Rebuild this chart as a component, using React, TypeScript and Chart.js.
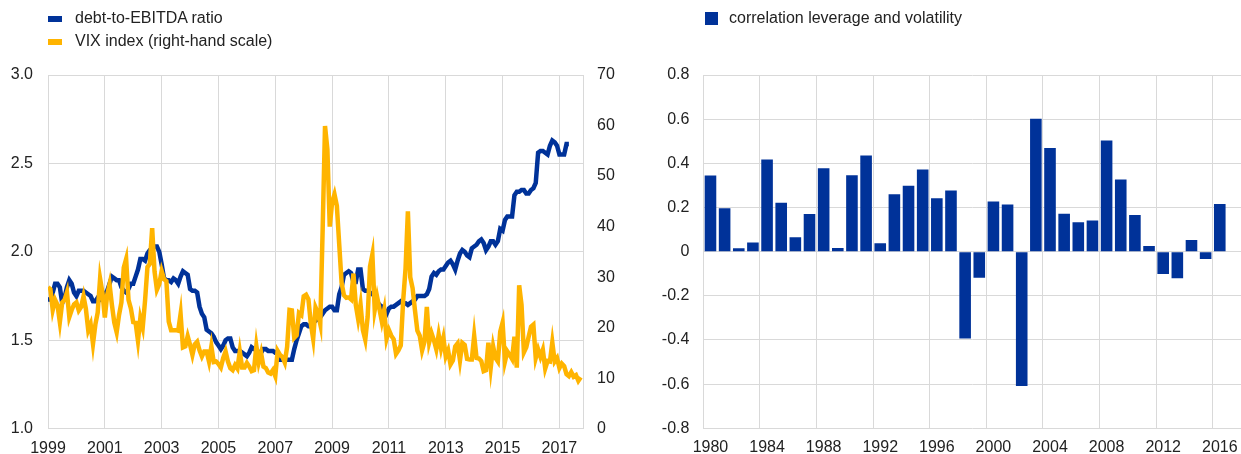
import React, { useEffect, useRef } from 'react';
import { Chart, registerables } from 'chart.js';

Chart.register(...registerables);

const FONT_FAMILY = "'Liberation Sans', Arial, Helvetica, sans-serif";
const BLUE = '#003299';
const YELLOW = '#FFB400';
const GRID = '#d9d9d9';
const TEXT = '#222222';

// ---------- Left chart: monthly data starting January 1999 ----------
const seriesStartYear = 1999;

const debtToEbitda = [
  // 1999
  1.73, 1.73, 1.77, 1.82, 1.82, 1.80, 1.71, 1.74, 1.80, 1.84, 1.82, 1.77,
  // 2000
  1.75, 1.78, 1.78, 1.78, 1.77, 1.76, 1.75, 1.72, 1.72, 1.74, 1.73, 1.74,
  // 2001
  1.76, 1.78, 1.82, 1.86, 1.85, 1.84, 1.84, 1.80, 1.78, 1.77, 1.79, 1.82,
  // 2002
  1.82, 1.86, 1.90, 1.96, 1.96, 1.95, 1.99, 2.01, 2.02, 2.03, 2.03, 2.00,
  // 2003
  1.93, 1.85, 1.84, 1.84, 1.83, 1.85, 1.84, 1.82, 1.86, 1.89, 1.88, 1.87,
  // 2004
  1.79, 1.78, 1.78, 1.77, 1.69, 1.65, 1.63, 1.56, 1.55, 1.54, 1.52, 1.49,
  // 2005
  1.47, 1.45, 1.47, 1.50, 1.51, 1.51, 1.46, 1.44, 1.44, 1.44, 1.43, 1.42,
  // 2006
  1.41, 1.43, 1.46, 1.45, 1.45, 1.43, 1.43, 1.45, 1.45, 1.44, 1.44, 1.44,
  // 2007
  1.43, 1.43, 1.39, 1.39, 1.39, 1.39, 1.39, 1.39, 1.45, 1.50, 1.54, 1.58,
  // 2008
  1.59, 1.59, 1.58, 1.58, 1.60, 1.61, 1.62, 1.63, 1.65, 1.67, 1.68, 1.69,
  // 2009
  1.69, 1.67, 1.67, 1.76, 1.80, 1.87, 1.88, 1.89, 1.88, 1.83, 1.83, 1.90,
  // 2010
  1.90, 1.79, 1.78, 1.78, 1.77, 1.76, 1.75, 1.72, 1.70, 1.69, 1.67, 1.65,
  // 2011
  1.68, 1.69, 1.69, 1.70, 1.71, 1.72, 1.71, 1.71, 1.70, 1.71, 1.72, 1.73,
  // 2012
  1.75, 1.75, 1.75, 1.75, 1.76, 1.79, 1.86, 1.88, 1.87, 1.89, 1.90, 1.90,
  // 2013
  1.92, 1.94, 1.95, 1.93, 1.90, 1.95, 1.99, 2.01, 2.00, 1.98, 1.97, 2.02,
  // 2014
  2.03, 2.04, 2.06, 2.07, 2.05, 2.01, 2.03, 2.06, 2.06, 2.04, 2.06, 2.13,
  // 2015
  2.12, 2.18, 2.20, 2.20, 2.20, 2.32, 2.34, 2.34, 2.35, 2.35, 2.33, 2.33,
  // 2016
  2.35, 2.36, 2.39, 2.56, 2.57, 2.57, 2.56, 2.55, 2.60, 2.63, 2.62, 2.60,
  // 2017
  2.55, 2.55, 2.55, 2.61, 2.61,
];

const vixIndex = [
  // 1999
  28.0, 27.6, 23.5, 25.5, 24.5, 21.1, 25.0, 25.5, 27.0, 22.1, 23.5, 24.6,
  // 2000
  25.0, 23.4, 24.1, 26.2, 23.7, 19.5, 20.7, 16.8, 20.6, 23.0, 29.7, 26.9,
  // 2001
  22.0, 26.5, 28.6, 24.5, 21.0, 19.1, 22.5, 25.0, 31.9, 33.6, 25.5, 23.8,
  // 2002
  21.1, 21.0, 17.4, 21.9, 20.0, 25.4, 32.0, 32.6, 39.7, 31.1, 27.5, 28.6,
  // 2003
  31.2, 29.6, 29.2, 21.2, 19.5, 19.5, 19.5, 19.4, 22.7, 16.1, 16.3, 18.3,
  // 2004
  16.6, 14.6, 16.7, 17.2, 15.5, 14.3, 15.3, 15.3, 13.3, 16.3, 13.2, 13.3,
  // 2005
  12.8, 12.1, 14.0, 15.3, 13.3, 12.0, 11.6, 12.6, 11.9, 15.3, 12.1, 12.1,
  // 2006
  13.0, 12.3, 11.4, 11.6, 16.4, 13.1, 15.0, 12.3, 12.0, 11.1, 10.9, 11.6,
  // 2007
  10.4, 15.4, 14.6, 14.2, 13.1, 16.2, 23.5, 23.4, 18.0, 18.5, 22.9, 22.5,
  // 2008
  26.2, 26.5, 25.6, 20.8, 17.8, 24.0, 22.9, 20.7, 39.4, 59.9, 55.3, 40.0,
  // 2009
  44.8, 46.4, 44.1, 36.5, 28.9, 26.4, 25.9, 26.0, 25.6, 30.7, 24.5, 21.7,
  // 2010
  24.6, 19.5, 17.6, 22.1, 32.1, 34.5, 23.5, 26.1, 23.7, 21.2, 23.5, 17.8,
  // 2011
  19.5, 18.4, 17.7, 14.8, 15.5, 16.5, 25.3, 31.6, 43.0, 30.0, 27.8, 23.4,
  // 2012
  19.4, 18.4, 15.5, 17.2, 24.1, 17.1, 18.9, 17.5, 15.7, 18.6, 15.9, 18.0,
  // 2013
  14.3, 15.5, 12.7, 13.5, 16.3, 16.9, 13.5, 17.0, 16.6, 13.8, 13.7, 13.7,
  // 2014
  18.4, 14.0, 13.9, 13.4, 11.4, 11.6, 17.0, 12.1, 16.3, 14.0, 13.3, 19.2,
  // 2015
  21.0, 13.3, 15.3, 14.6, 13.8, 18.2, 12.1, 28.4, 24.5, 15.1, 16.1, 18.2,
  // 2016
  20.2, 20.6, 14.0, 15.7, 14.2, 15.6, 11.9, 13.4, 13.3, 17.1, 13.3, 14.0,
  // 2017
  12.0, 12.9, 12.4, 10.8, 10.4, 11.2, 10.3, 10.6, 9.5, 10.2,
];

const leftXTicks = [1999, 2001, 2003, 2005, 2007, 2009, 2011, 2013, 2015, 2017];
const leftXMin = 1999;
const leftXMax = 2017.83;
const leftYMin = 1.0;
const leftYMax = 3.0;
const leftYStep = 0.5;
const rightYMin = 0;
const rightYMax = 70;
const rightYStep = 10;

const leftLegend = ['debt-to-EBITDA ratio', 'VIX index (right-hand scale)'];

// ---------- Right chart: annual correlation ----------
const corrYears = [
  '1980', '1981', '1982', '1983', '1984', '1985', '1986', '1987', '1988', '1989',
  '1990', '1991', '1992', '1993', '1994', '1995', '1996', '1997', '1998', '1999',
  '2000', '2001', '2002', '2003', '2004', '2005', '2006', '2007', '2008', '2009',
  '2010', '2011', '2012', '2013', '2014', '2015', '2016', '2017',
];
const correlation = [
  0.345, 0.197, 0.015, 0.042, 0.417, 0.221, 0.065, 0.171, 0.378, 0.017,
  0.346, 0.435, 0.038, 0.26, 0.299, 0.372, 0.242, 0.277, -0.393, -0.118,
  0.227, 0.213, -0.608, 0.602, 0.469, 0.172, 0.133, 0.141, 0.503, 0.327,
  0.166, 0.026, -0.101, -0.121, 0.053, -0.033, 0.216, null,
];
const corrYMin = -0.8;
const corrYMax = 0.8;
const corrYStep = 0.2;
const corrLabelEvery = 4;
const rightLegend = 'correlation leverage and volatility';

const tickFont = { family: FONT_FAMILY, size: 16 };

export default function App() {
  const leftRef = useRef<HTMLCanvasElement | null>(null);
  const rightRef = useRef<HTMLCanvasElement | null>(null);

  useEffect(() => {
    const toPoints = (vals: number[]) =>
      vals.map((v, i) => ({ x: seriesStartYear + i / 12, y: v }));

    const left = new Chart(leftRef.current as HTMLCanvasElement, {
      type: 'line',
      data: {
        datasets: [
          {
            label: leftLegend[0],
            data: toPoints(debtToEbitda),
            borderColor: BLUE,
            backgroundColor: BLUE,
            borderWidth: 4.5,
            pointRadius: 0,
            tension: 0,
            yAxisID: 'y',
            order: 2,
          },
          {
            label: leftLegend[1],
            data: toPoints(vixIndex),
            borderColor: YELLOW,
            backgroundColor: YELLOW,
            borderWidth: 4.5,
            pointRadius: 0,
            tension: 0,
            yAxisID: 'y2',
            order: 1,
          },
        ],
      },
      options: {
        responsive: false,
        animation: false,
        devicePixelRatio: 1,
        layout: { padding: { top: 75, left: 0, right: 0, bottom: 0 } },
        plugins: { legend: { display: false }, tooltip: { enabled: false } },
        scales: {
          x: {
            type: 'linear',
            min: leftXMin,
            max: leftXMax,
            afterBuildTicks: (s: any) => {
              s.ticks = leftXTicks.map((v) => ({ value: v }));
            },
            afterFit: (s: any) => {
              s.height = 25.3;
              s.paddingLeft = 0;
              s.paddingRight = 0;
            },
            grid: { color: GRID, lineWidth: 1, drawTicks: false },
            border: { display: false },
            ticks: {
              autoSkip: false,
              maxRotation: 0,
              padding: 10,
              font: tickFont,
              color: TEXT,
              callback: (v: any) => String(v),
            },
          },
          y: {
            type: 'linear',
            position: 'left',
            min: leftYMin,
            max: leftYMax,
            afterFit: (s: any) => {
              s.width = 48;
            },
            grid: { color: GRID, lineWidth: 1, drawTicks: false },
            border: { display: true, color: GRID },
            ticks: {
              stepSize: leftYStep,
              padding: 15,
              font: tickFont,
              color: TEXT,
              callback: (v: any) => Number(v).toFixed(1),
            },
          },
          y2: {
            type: 'linear',
            position: 'right',
            min: rightYMin,
            max: rightYMax,
            afterFit: (s: any) => {
              s.width = 37;
            },
            grid: { drawOnChartArea: false, drawTicks: false },
            border: { display: true, color: GRID },
            ticks: {
              stepSize: rightYStep,
              padding: 14,
              font: tickFont,
              color: TEXT,
              callback: (v: any) => String(Math.round(Number(v))),
            },
          },
        },
      },
    } as any);

    const right = new Chart(rightRef.current as HTMLCanvasElement, {
      type: 'bar',
      data: {
        labels: corrYears,
        datasets: [
          {
            label: rightLegend,
            data: correlation,
            backgroundColor: BLUE,
            borderWidth: 0,
            categoryPercentage: 0.82,
            barPercentage: 1,
          },
        ],
      },
      options: {
        responsive: false,
        animation: false,
        devicePixelRatio: 1,
        layout: { padding: { top: 75, left: 0, right: 0, bottom: 0 } },
        plugins: { legend: { display: false }, tooltip: { enabled: false } },
        scales: {
          x: {
            type: 'category',
            offset: true,
            afterFit: (s: any) => {
              s.height = 25.7;
              s.paddingLeft = 0;
              s.paddingRight = 0;
            },
            grid: {
              offset: true,
              drawTicks: false,
              lineWidth: 1,
              color: (ctx: any) =>
                typeof ctx.index === 'number' && ctx.index % corrLabelEvery === 0
                  ? GRID
                  : 'rgba(0,0,0,0)',
            },
            border: { display: false },
            ticks: {
              autoSkip: false,
              maxRotation: 0,
              padding: 10,
              font: tickFont,
              color: TEXT,
              callback: (_v: any, i: number) => (i % corrLabelEvery === 0 ? corrYears[i] : ''),
            },
          },
          y: {
            type: 'linear',
            min: corrYMin,
            max: corrYMax,
            afterFit: (s: any) => {
              s.width = 83.4;
            },
            grid: { color: GRID, lineWidth: 1, drawTicks: false },
            border: { display: true, color: GRID },
            ticks: {
              stepSize: corrYStep,
              padding: 14,
              font: tickFont,
              color: TEXT,
              callback: (v: any) => {
                const n = Number(v);
                return Math.abs(n) < 1e-9 ? '0' : n.toFixed(1);
              },
            },
          },
        },
      },
    } as any);

    return () => {
      left.destroy();
      right.destroy();
    };
  }, []);

  const legendText: React.CSSProperties = {
    position: 'absolute',
    fontFamily: FONT_FAMILY,
    fontSize: 16,
    lineHeight: '20px',
    color: TEXT,
    whiteSpace: 'nowrap',
  };

  return (
    <div
      style={{
        position: 'absolute',
        left: 0,
        top: 0,
        width: 1241,
        height: 454,
        background: '#ffffff',
        overflow: 'hidden',
      }}
    >
      <canvas
        ref={leftRef}
        width={620}
        height={454}
        style={{ position: 'absolute', left: 0, top: 0, width: 620, height: 454 }}
      />
      <canvas
        ref={rightRef}
        width={621}
        height={454}
        style={{ position: 'absolute', left: 620, top: 0, width: 621, height: 454 }}
      />
      <div style={{ position: 'absolute', left: 48, top: 16, width: 14, height: 6, background: BLUE }} />
      <div style={{ ...legendText, left: 75, top: 8 }}>{leftLegend[0]}</div>
      <div style={{ position: 'absolute', left: 48, top: 39, width: 14, height: 6, background: YELLOW }} />
      <div style={{ ...legendText, left: 75, top: 31 }}>{leftLegend[1]}</div>
      <div style={{ position: 'absolute', left: 705, top: 12, width: 13, height: 13, background: BLUE }} />
      <div style={{ ...legendText, left: 729, top: 8 }}>{rightLegend}</div>
    </div>
  );
}
